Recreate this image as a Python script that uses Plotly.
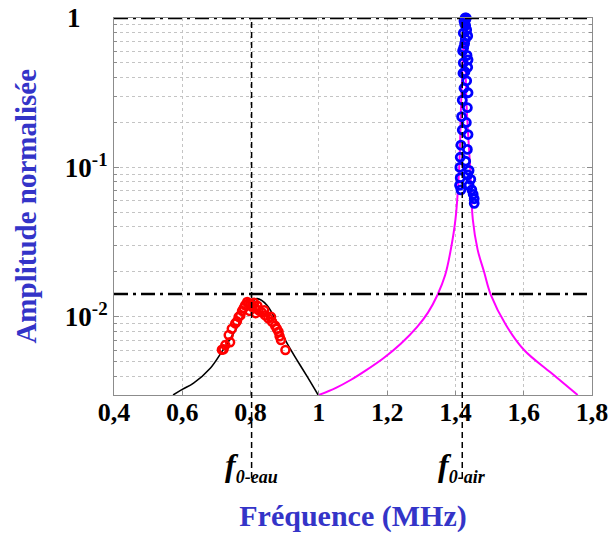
import plotly.graph_objects as go

# ---- data ----
fit_water_x = [0.573, 0.600, 0.633, 0.682, 0.716, 0.750, 0.780, 0.799, 0.819, 0.848, 0.878, 0.907, 0.936, 0.966, 0.998]
fit_water_y = [0.00300, 0.00327, 0.00360, 0.00453, 0.00585, 0.00774, 0.01026, 0.01227, 0.01324, 0.01197, 0.00904, 0.00664, 0.00514, 0.00398, 0.00300]

meas_water_x = [0.716, 0.721, 0.726, 0.736, 0.740, 0.745, 0.755, 0.760, 0.765, 0.770, 0.775, 0.780, 0.784, 0.790, 0.794,
                0.797, 0.800, 0.804, 0.810, 0.813, 0.815, 0.820, 0.823, 0.833, 0.840, 0.843, 0.852, 0.860, 0.863, 0.872,
                0.877, 0.882, 0.885, 0.889, 0.902]
meas_water_y = [0.00603, 0.00607, 0.00647, 0.00755, 0.00676, 0.00832, 0.00904, 0.00933, 0.01000, 0.01023, 0.01096, 0.01148,
                0.01197, 0.01259, 0.01230, 0.01096, 0.01216, 0.01167, 0.01245, 0.01148, 0.01059, 0.01189, 0.01109, 0.01072,
                0.01109, 0.01023, 0.00977, 0.01000, 0.00927, 0.00871, 0.00832, 0.00794, 0.00741, 0.00700, 0.00600]

fit_air_x = [1.000, 1.050, 1.093, 1.140, 1.190, 1.240, 1.288, 1.320, 1.347, 1.370, 1.386, 1.400, 1.411, 1.417, 1.423,
             1.427, 1.429, 1.432, 1.443, 1.451, 1.465, 1.484, 1.504, 1.548, 1.601, 1.680, 1.758]
fit_air_y = [0.00300, 0.00335, 0.00378, 0.00442, 0.00531, 0.00661, 0.00857, 0.01072, 0.01396, 0.01905, 0.02786, 0.04467,
             0.1000, 0.2818, 0.631, 1.000, 0.631, 0.2818, 0.1000, 0.04467, 0.02818, 0.01995, 0.01396, 0.00881, 0.00600,
             0.00422, 0.00300]

meas_air_x = [1.428, 1.432, 1.430, 1.425, 1.427, 1.430, 1.433, 1.423, 1.436, 1.429, 1.427, 1.424, 1.421, 1.434, 1.437,
              1.423, 1.436, 1.428, 1.422, 1.433, 1.425, 1.437, 1.420, 1.435, 1.418, 1.432, 1.420, 1.437, 1.416, 1.435,
              1.414, 1.430, 1.413, 1.440, 1.436, 1.414, 1.445, 1.412, 1.440, 1.448, 1.416, 1.452, 1.455, 1.455]
meas_air_y = [1.000, 1.000, 0.977, 0.955, 0.912, 0.891, 0.832, 0.794, 0.759, 0.724, 0.676, 0.631, 0.603, 0.562, 0.525,
              0.501, 0.468, 0.437, 0.427, 0.380, 0.339, 0.316, 0.282, 0.251, 0.219, 0.200, 0.178, 0.166, 0.141, 0.132,
              0.117, 0.110, 0.100, 0.0955, 0.0891, 0.0851, 0.0832, 0.0759, 0.0759, 0.0708, 0.0708, 0.0661, 0.0617, 0.0575]

f0_water = 0.803
f0_air = 1.420
threshold_level = 0.0142
top_level = 1.0

x_ticks = [0.4, 0.6, 0.8, 1.0, 1.2, 1.4, 1.6, 1.8]
x_tick_text = ["0,4", "0,6", "0,8", "1", "1,2", "1,4", "1,6", "1,8"]
y_ticks = [0.01, 0.1, 1]
y_tick_text = ["10<sup>-2</sup>", "10<sup>-1</sup>", "1&nbsp;&nbsp;&nbsp;&nbsp;"]

SERIF = "Liberation Serif, Times New Roman, serif"
BLUE = "#3434c8"
GRID = "#c4c4c4"

fig = go.Figure()

fig.add_trace(go.Scatter(x=fit_water_x, y=fit_water_y, mode="lines", line=dict(color="black", width=1.6),
                         line_shape="spline", showlegend=False))
fig.add_trace(go.Scatter(x=meas_water_x, y=meas_water_y, mode="markers",
                         marker=dict(symbol="circle-open", color="red", size=8, line=dict(width=2.5, color="red")),
                         showlegend=False))
fig.add_trace(go.Scatter(x=fit_air_x, y=fit_air_y, mode="lines", line=dict(color="#ff00ff", width=2),
                         line_shape="spline", showlegend=False))
fig.add_trace(go.Scatter(x=meas_air_x, y=meas_air_y, mode="markers", cliponaxis=False,
                         marker=dict(symbol="circle-open", color="blue", size=8, line=dict(width=2.8, color="blue")),
                         showlegend=False))

# horizontal dash-dot lines
for lvl in (threshold_level, top_level):
    fig.add_shape(type="line", xref="x domain", yref="y", x0=0, x1=1, y0=lvl, y1=lvl,
                  line=dict(color="black", width=2.5, dash="14px,5px,3px,5px"))

# vertical dashed lines extending below the axis
for f0 in (f0_water, f0_air):
    fig.add_shape(type="line", xref="x", yref="y domain", x0=f0, x1=f0, y0=-0.22, y1=1,
                  line=dict(color="black", width=1.5, dash="6px,4px"))

SUB = '<sub><span style="font-size:18px">{}</span></sub>'
fig.add_annotation(x=f0_water, xref="x", y=-0.19, yref="y domain", yanchor="middle", showarrow=False,
                   text="<b><i>f" + SUB.format("0-eau") + "</i></b>",
                   font=dict(family=SERIF, size=32, color="black"))
fig.add_annotation(x=f0_air, xref="x", y=-0.19, yref="y domain", yanchor="middle", showarrow=False,
                   text="<b><i>f" + SUB.format("0-air") + "</i></b>",
                   font=dict(family=SERIF, size=32, color="black"))

# y axis title placed left of the tick labels
fig.add_annotation(x=-0.186, xref="paper", y=0.5, yref="paper", xanchor="center", yanchor="middle",
                   showarrow=False, textangle=-90,
                   text="<b>Amplitude normalisée</b>", font=dict(family=SERIF, size=29, color=BLUE))

fig.update_xaxes(range=[0.4, 1.8], tickvals=x_ticks, ticktext=x_tick_text, automargin=False,
                 ticklabeloverflow="allow", ticklabelstandoff=-6,
                 tickfont=dict(family=SERIF, size=26, color="black", weight="bold"),
                 showgrid=True, gridcolor=GRID, griddash="dot", gridwidth=1,
                 showline=True, linecolor="#8c8c8c", linewidth=1, mirror=True,
                 ticks="inside", ticklen=4, tickcolor="#8c8c8c", zeroline=False,
                 title=dict(text="<b>Fréquence (MHz)</b>", font=dict(family=SERIF, size=30, color=BLUE), standoff=90))
fig.update_yaxes(type="log", range=[-2.5229, 0], tickvals=y_ticks, ticktext=y_tick_text, automargin=False,
                 ticklabeloverflow="allow",
                 tickfont=dict(family=SERIF, size=27, color="black", weight="bold"),
                 showgrid=True, gridcolor=GRID, griddash="dot", gridwidth=1,
                 minor=dict(showgrid=True, gridcolor=GRID, griddash="dot", ticks="inside", ticklen=3,
                            tickcolor="#8c8c8c", dtick="D1"),
                 showline=True, linecolor="#8c8c8c", linewidth=1, mirror="ticks",
                 ticks="inside", ticklen=5, tickcolor="#8c8c8c", zeroline=False)

fig.update_layout(width=612, height=533, margin=dict(l=114, r=20, t=18, b=138),
                  paper_bgcolor="white", plot_bgcolor="white", showlegend=False)

# remove the default page margin so the figure fills the window exactly
fig.write_html("out.html", config={"displayModeBar": False},
               post_script="document.body.style.margin='0';")
